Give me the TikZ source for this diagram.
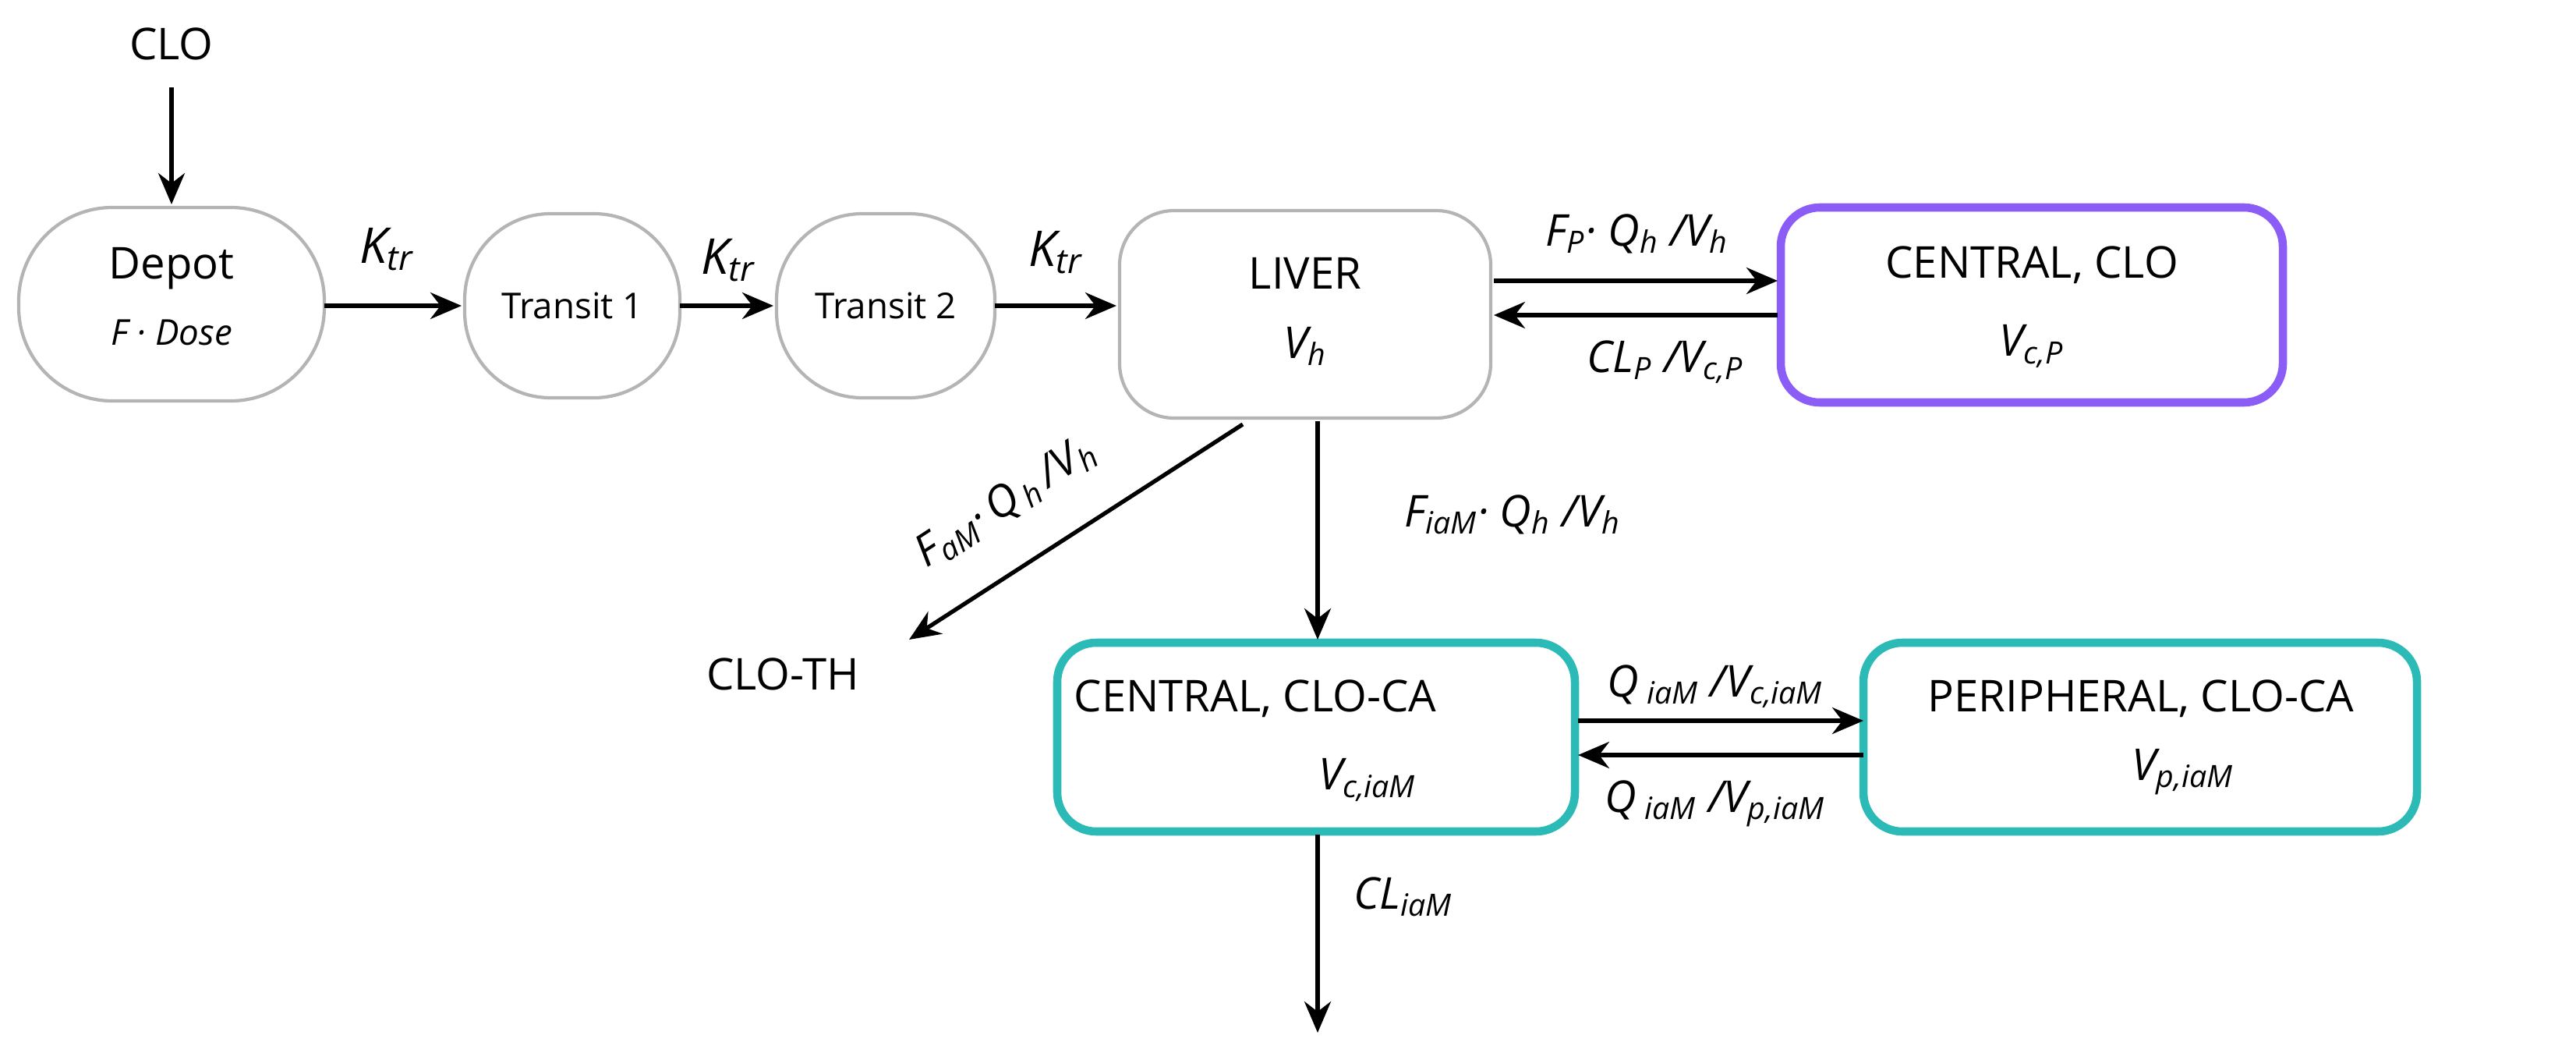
\documentclass[tikz,border=0pt]{standalone}
\usepackage{fontspec}
\setmainfont{Open Sans}
\usetikzlibrary{arrows.meta}
\definecolor{gr}{HTML}{B4B4B4}
\definecolor{pu}{HTML}{8B5CF6}
\definecolor{te}{HTML}{2BBAB6}
\begin{document}
\begin{tikzpicture}[x=0.2mm,y=-0.2mm,
 every node/.style={font=\fontsize{16}{19}\selectfont},
 box/.style={draw=gr,line width=1.2pt,rounded corners=12mm},
 pbox/.style={draw=pu,line width=3pt,rounded corners=5mm},
 tbox/.style={draw=te,line width=3pt,rounded corners=5mm},
 ar/.style={-{Stealth[length=4mm,width=3.4mm]},line width=1.5pt},
 lab/.style={font=\fontsize{16}{19}\selectfont\itshape}]
\useasboundingbox (0,0) rectangle (1652,675);
\node (clo) at (110,28) {CLO};
\draw[box] (12,133) rectangle (208,257);
\node (depot) at (110,195) [minimum width=39mm,minimum height=24.8mm] {};
\node at (110,172) {Depot};
\node[lab,font=\fontsize{13}{15}\selectfont\itshape] at (110,213) {F · Dose};
\draw[box,rounded corners=11mm] (298,137) rectangle (436,255);
\node (t1) at (367,196) [minimum width=27.6mm,minimum height=23.6mm,font=\fontsize{13}{15}\selectfont] {Transit 1};
\draw[box,rounded corners=11mm] (498,137) rectangle (638,255);
\node (t2) at (568,196) [minimum width=28mm,minimum height=23.6mm,font=\fontsize{13}{15}\selectfont] {Transit 2};
\draw[box,rounded corners=7mm] (718,135) rectangle (956,268);
\node (liver) at (837,201) [minimum width=47.6mm,minimum height=26.6mm] {};
\node at (837,175) {LIVER};
\node[lab] at (837,222) {V\textsubscript{h}};
\draw[pbox] (1142,133) rectangle (1464,258);
\node (cen) at (1303,195) [minimum width=64.4mm,minimum height=25mm] {};
\node at (1303,170) {CENTRAL, CLO};
\node[lab] at (1303,222) {V\textsubscript{c,P}};
\draw[tbox] (678,412) rectangle (1010,533);
\node (cca) at (844,472) [minimum width=66.4mm,minimum height=24.2mm] {};
\node at (805,448) {CENTRAL, CLO-CA};
\node[lab] at (877,500) {V\textsubscript{c,iaM}};
\draw[tbox] (1195,412) rectangle (1550,533);
\node (per) at (1372,472) [minimum width=71mm,minimum height=24.2mm] {};
\node at (1373,448) {PERIPHERAL, CLO-CA};
\node[lab] at (1400,495) {V\textsubscript{p,iaM}};
\node (th) at (502,432) {CLO-TH};
\coordinate (end) at (845,662);
\draw[ar] (110,56) -- (110,131);
\draw[ar] (208,196) -- (296,196);
\node[lab,font=\fontsize{18}{20}\selectfont\itshape] at (248,160) {K\textsubscript{tr}};
\draw[ar] (436,196) -- (496,196);
\node[lab,font=\fontsize{18}{20}\selectfont\itshape] at (467,167) {K\textsubscript{tr}};
\draw[ar] (638,196) -- (716,196);
\node[lab,font=\fontsize{18}{20}\selectfont\itshape] at (677,162) {K\textsubscript{tr}};
\draw[ar] (958,180) -- (1140,180);
\node[lab] at (1050,150) {F\textsubscript{P}· Q\textsubscript{h} /V\textsubscript{h}};
\draw[ar] (1140,202) -- (958,202);
\node[lab] at (1068,232) {CL\textsubscript{P} /V\textsubscript{c,P}};
\draw[ar] (797,272) -- (583,410);
\node[lab,rotate=33,inner sep=1pt] at (645,322) {F\textsubscript{aM}·\,Q\textsubscript{\,h}\,/V\textsubscript{h}};
\draw[ar] (845,270) -- (845,410);
\node[lab] at (970,330) {F\textsubscript{iaM}· Q\textsubscript{h} /V\textsubscript{h}};
\draw[ar] (1012,462) -- (1195,462);
\node[lab] at (1100,440) {Q\textsubscript{ iaM} /V\textsubscript{c,iaM}};
\draw[ar] (1195,484) -- (1012,484);
\node[lab] at (1100,515) {Q\textsubscript{ iaM} /V\textsubscript{p,iaM}};
\draw[ar] (845,535) -- (end);
\node[lab] at (900,575) {CL\textsubscript{iaM}};
\end{tikzpicture}
\end{document}
